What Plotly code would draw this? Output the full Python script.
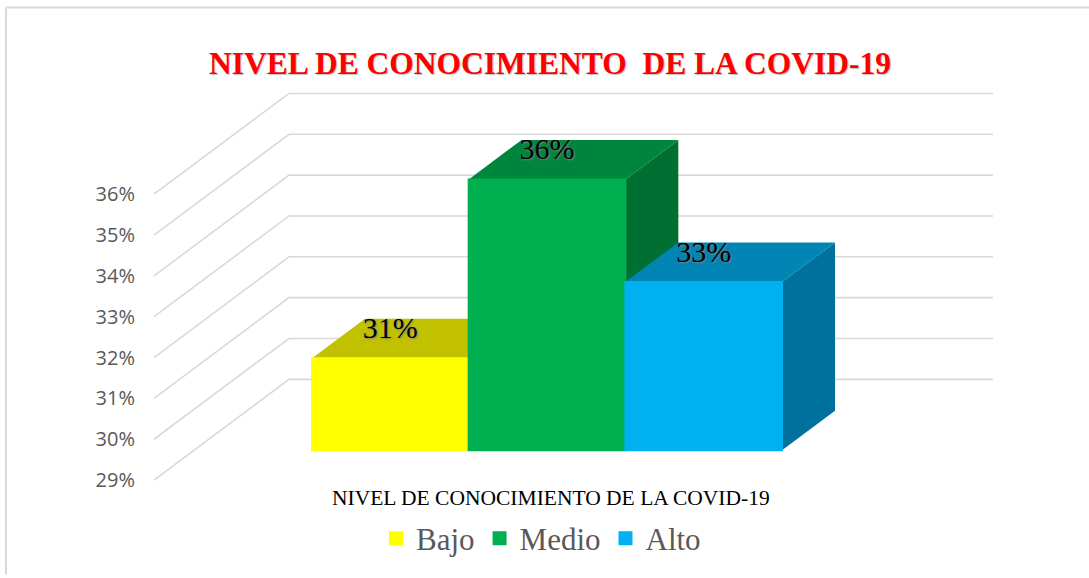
import plotly.graph_objects as go

# --- data ---
categories = ["Bajo", "Medio", "Alto"]
values = [31.25, 35.63, 33.12]
labels = ["31%", "36%", "33%"]
positions = [1, 2, 3]
tick_values = [29, 30, 31, 32, 33, 34, 35, 36]
tick_labels = ["29%", "30%", "31%", "32%", "33%", "34%", "35%", "36%"]
front_colors = ["#FFFF00", "#00B050", "#00B0F0"]
top_colors = ["#C1C100", "#00853C", "#0085B5"]
side_colors = ["#9E9E00", "#006F32", "#00719C"]

title = "NIVEL DE CONOCIMIENTO\u00a0 DE LA COVID-19"
axis_title = "NIVEL DE CONOCIMIENTO DE LA COVID-19"

# --- pseudo-3D projection (oblique), in axis units ---
W, H = 1089, 578
ML, MR, MT, MB = 140, 89, 85, 83
PX_PER_X = 156.67
PX_PER_Y = 41.14
DEPTH_X = 135 / PX_PER_X
DEPTH_Y = 101.5 / PX_PER_Y
BAR_D0 = 40 / 135
BAR_D1 = 93 / 135
BASE = tick_values[0]
GRID_LEFT = 0.5 + (154 - 312) / PX_PER_X


def paper_x(px):
    return (px - ML) / (W - ML - MR)


def paper_y(py):
    return 1 - (py - MT) / (H - MT - MB)


def project(x, v, d):
    """World point (x, value, depth) -> axis coordinates."""
    return x + (d - BAR_D0) * DEPTH_X, v + d * DEPTH_Y


x_range = [0.5 + (ML - 312) / PX_PER_X, 0.5 + (W - MR - 312) / PX_PER_X]
y_range = [BASE - (H - MB - 483) / PX_PER_Y, BASE + (483 - MT) / PX_PER_Y]
GRID_RIGHT_X = 0.5 + (993 - 312) / PX_PER_X

fig = go.Figure()

# gridlines: floor-to-wall diagonal then along the back wall
gx, gy = [], []
for t in tick_values:
    x0, y0 = GRID_LEFT, t
    x1, y1 = GRID_LEFT + DEPTH_X, t + DEPTH_Y
    gx += [x0, x1, GRID_RIGHT_X, None]
    gy += [y0, y1, y1, None]
fig.add_trace(go.Scatter(x=gx, y=gy, mode="lines", line=dict(color="#D9D9D9", width=1.6),
                         showlegend=False, hoverinfo="skip"))


def poly(points, color):
    xs = [p[0] for p in points] + [points[0][0]]
    ys = [p[1] for p in points] + [points[0][1]]
    fig.add_trace(go.Scatter(x=xs, y=ys, mode="lines", fill="toself", fillcolor=color,
                             line=dict(width=0, color=color), showlegend=False, hoverinfo="skip"))


# top and side faces of each bar, left to right
for p, v, tc, sc in zip(positions, values, top_colors, side_colors):
    l, r = p - 0.5, p + 0.5
    poly([project(r, BASE, BAR_D0), project(r, v, BAR_D0), project(r, v, BAR_D1), project(r, BASE, BAR_D1)], sc)
    poly([project(l, v, BAR_D0), project(r, v, BAR_D0), project(r, v, BAR_D1), project(l, v, BAR_D1)], tc)

# front faces: real bars in an overlaid subplot
shift = BAR_D0 * DEPTH_Y
for c, p, v, col in zip(categories, positions, values, front_colors):
    fig.add_trace(go.Bar(x=[p], y=[v - BASE], base=[BASE + shift], width=[1], name=c,
                         marker=dict(color=col, line=dict(width=2, color=col)),
                         xaxis="x2", yaxis="y2", hoverinfo="name"))

# data labels
fig.add_trace(go.Scatter(x=positions, y=[v + shift + 0.68 for v in values], text=labels, mode="text",
                         textposition="middle center", xaxis="x2", yaxis="y2", showlegend=False,
                         textfont=dict(family="Liberation Serif", size=30, color="#000000",
                                       shadow="1px 1px 2px #808080"),
                         hoverinfo="skip"))

fig.update_layout(
    width=W, height=H,
    autosize=False,
    margin=dict(l=ML, r=MR, t=MT, b=MB, pad=0),
    paper_bgcolor="white", plot_bgcolor="white",
    barmode="overlay",
    title=dict(text=title, x=550 / W, xanchor="center", y=1 - 63 / H, yanchor="middle",
               font=dict(family="Liberation Serif", size=31.5, color="#FF0000", weight="bold",
                         shadow="1px 1px 1px #C0C0C0")),
    xaxis=dict(range=x_range, visible=False, fixedrange=True),
    yaxis=dict(range=y_range, tickvals=tick_values, ticktext=tick_labels, showgrid=False, zeroline=False,
               showline=False, ticks="", ticklabelstandoff=4,
               tickfont=dict(family="Open Sans", size=20, color="#595959"), fixedrange=True),
    xaxis2=dict(range=x_range, visible=False, overlaying="x", fixedrange=True),
    yaxis2=dict(range=y_range, visible=False, overlaying="y", fixedrange=True),
    legend=dict(orientation="h", x=paper_x(376), xanchor="left", y=paper_y(542), yanchor="middle",
                font=dict(family="Liberation Serif", size=31, color="#595959"),
                itemclick=False, itemdoubleclick=False, bgcolor="rgba(0,0,0,0)"),
    annotations=[dict(text=axis_title, xref="paper", yref="paper", x=paper_x(551), y=paper_y(501),
                      showarrow=False, xanchor="center", yanchor="middle",
                      font=dict(family="Liberation Serif", size=21.5, color="#000000"))],
    shapes=[dict(type="line", xref="paper", yref="paper", x0=paper_x(6), x1=paper_x(W), y0=paper_y(7), y1=paper_y(7),
                 line=dict(color="#D9D9D9", width=2)),
            dict(type="line", xref="paper", yref="paper", x0=paper_x(6), x1=paper_x(6), y0=paper_y(7), y1=paper_y(H),
                 line=dict(color="#D9D9D9", width=2))],
)

fig.write_html("out.html", config=dict(displayModeBar=False),
               post_script="document.body.style.margin='0';document.documentElement.style.overflow='hidden';")
